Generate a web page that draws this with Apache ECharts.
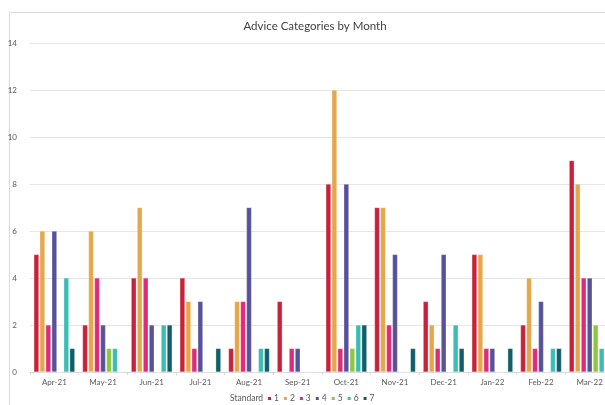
<!DOCTYPE html>
<html>
<head>
<meta charset="utf-8">
<script src="https://cdn.jsdelivr.net/npm/echarts@6/dist/echarts.min.js"></script>
<style>
html,body{margin:0;padding:0;background:#fff;}
#c{width:605px;height:405px;}
</style>
</head>
<body>
<div id="c"></div>
<script>
const months = ['Apr-21','May-21','Jun-21','Jul-21','Aug-21','Sep-21','Oct-21','Nov-21','Dec-21','Jan-22','Feb-22','Mar-22'];
const seriesNames = ['1','2','3','4','5','6','7'];
const s1 = [5,2,4,4,1,3,8,7,3,5,2,9];
const s2 = [6,6,7,3,3,0,12,7,2,5,4,8];
const s3 = [2,4,4,1,3,1,1,2,1,1,1,4];
const s4 = [6,2,2,3,7,1,8,5,5,1,3,4];
const s5 = [0,1,0,0,0,0,1,0,0,0,0,2];
const s6 = [4,1,2,0,1,0,2,0,2,0,1,1];
const s7 = [1,0,2,1,1,0,2,1,1,1,1,1];
const yTicks = [0,2,4,6,8,10,12,14];
const colors = ['#C8213A','#E4A74A','#DD2A7B','#57519A','#8DC63F','#3ABDB4','#0F5E69'];

const allData = [s1,s2,s3,s4,s5,s6,s7];
const font = 'Lato, "Open Sans", sans-serif';

const chart = echarts.init(document.getElementById('c'), null, {renderer:'canvas'});
chart.setOption({
  animation:false,
  color: colors,
  textStyle:{fontFamily:font},
  graphic:[{type:'polyline', shape:{points:[[9.5,405],[9.5,12.5],[610,12.5]]}, style:{stroke:'#d9d9d9', lineWidth:1, fill:null}, silent:true}],
  title:[
    {text:'Advice Categories by Month', left:315, top:20, textAlign:'center', padding:0,
     textStyle:{fontFamily:font, fontSize:11.5, fontWeight:'normal', color:'#404040'}},
    {text:'Standard', left:230, top:394, padding:0,
     textStyle:{fontFamily:font, fontSize:8.5, fontWeight:'normal', color:'#595959'}}
  ],
  legend:{
    left:266, top:394, padding:0, itemWidth:5, itemHeight:5, itemGap:3,
    icon:'rect',
    textStyle:{fontFamily:font, fontSize:8.5, color:'#595959', padding:[0,0,0,-3]},
    data: seriesNames
  },
  grid:{left:30, right:-9, top:43, bottom:33, containLabel:false, outerBoundsMode:'none'},
  xAxis:{
    type:'category', data:months,
    axisLine:{lineStyle:{color:'#d9d9d9'}},
    axisTick:{show:true, length:3, lineStyle:{color:'#d9d9d9'}},
    axisLabel:{fontFamily:font, fontSize:8, color:'#595959', margin:6}
  },
  yAxis:{
    type:'value', min:0, max:14, interval:2,
    axisLine:{show:false}, axisTick:{show:false},
    splitLine:{lineStyle:{color:'#e6e6e6'}},
    axisLabel:{fontFamily:font, fontSize:8, color:'#595959', margin:13,
      formatter: v => yTicks.includes(v) ? String(v) : ''}
  },
  series: allData.map((d,i)=>({
    name: seriesNames[i], type:'bar', data:d,
    barGap:'20%', barCategoryGap:'16%',
    itemStyle:{borderColor:'#fff', borderWidth:0.3}
  }))
});
</script>
</body>
</html>
